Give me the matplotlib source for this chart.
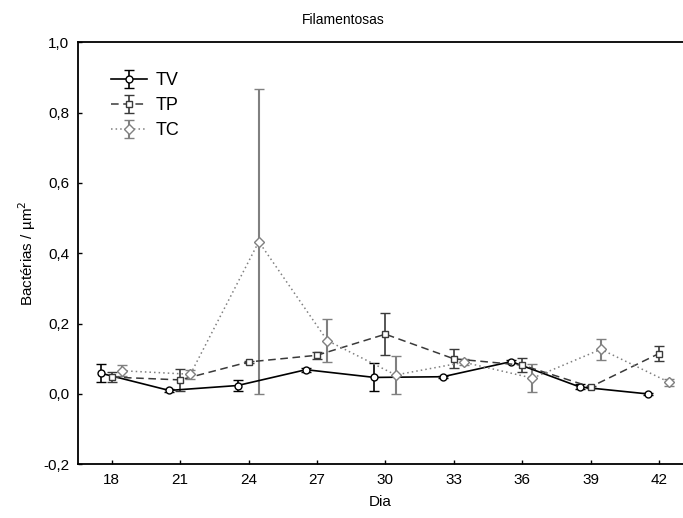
import matplotlib
matplotlib.use("Agg")
import matplotlib.pyplot as plt
import numpy as np

days = [18, 21, 24, 27, 30, 33, 36, 39, 42]
x_ticks = [18, 21, 24, 27, 30, 33, 36, 39, 42]
y_ticks = [-0.2, 0.0, 0.2, 0.4, 0.6, 0.8, 1.0]
y_tick_labels = ["-0,2", "0,0", "0,2", "0,4", "0,6", "0,8", "1,0"]

tv_mean = [0.059, 0.010, 0.024, 0.069, 0.047, 0.049, 0.092, 0.020, 0.000]
tv_err = [0.026, 0.004, 0.016, 0.006, 0.040, 0.003, 0.005, 0.007, 0.002]
tp_mean = [0.048, 0.040, 0.091, 0.110, 0.170, 0.100, 0.082, 0.020, 0.115]
tp_err = [0.015, 0.031, 0.004, 0.010, 0.060, 0.027, 0.020, 0.004, 0.022]
tc_mean = [0.066, 0.056, 0.433, 0.152, 0.054, 0.090, 0.045, 0.127, 0.033]
tc_err = [0.016, 0.013, 0.433, 0.060, 0.054, 0.008, 0.039, 0.030, 0.010]

plt.rcParams['font.family'] = ['Liberation Sans Narrow', 'Liberation Sans', 'DejaVu Sans']

fig = plt.figure(figsize=(6.83, 5.18), dpi=100)
ax = fig.add_axes([0.1138, 0.1037, 0.8862, 0.8146])

d = np.array(days, dtype=float)
ax.errorbar(d - 0.48, tv_mean, yerr=tv_err, color='black', ls='-', lw=1.2,
            marker='o', ms=5, mfc='white', mec='black', mew=1.0,
            ecolor='black', elinewidth=1.2, capsize=3.5, capthick=1.2, label='TV', zorder=3)
ax.errorbar(d, tp_mean, yerr=tp_err, color='#3a3a3a', ls=(0, (5, 3)), lw=1.1,
            marker='s', ms=5, mfc='white', mec='#3a3a3a', mew=1.0,
            ecolor='#3a3a3a', elinewidth=1.2, capsize=3.5, capthick=1.2, label='TP', zorder=3)
ax.errorbar(d + 0.45, tc_mean, yerr=tc_err, color='#808080', ls=(0, (1, 2)), lw=1.1,
            marker='D', ms=5, mfc='white', mec='#808080', mew=1.0,
            ecolor='#808080', elinewidth=1.5, capsize=3.5, capthick=1.2, label='TC', zorder=3)

ax.set_xlim(16.51, 43.05)
ax.set_ylim(-0.2, 1.0)
ax.set_xticks(x_ticks)
ax.set_xticklabels([str(v) for v in x_ticks])
ax.set_yticks(y_ticks)
ax.set_yticklabels(y_tick_labels)
ax.tick_params(direction='in', length=3, width=1, labelsize=11, pad=6)
ax.spines['right'].set_visible(False)
for s in ['left', 'bottom', 'top']:
    ax.spines[s].set_linewidth(1.3)

ax.set_xlabel('Dia', fontsize=11, labelpad=6)
ax.set_ylabel('Bactérias / µm$^2$', fontsize=11, labelpad=4)
fig.text(0.503, 0.962, 'Filamentosas', ha='center', va='center', fontsize=10)

leg = ax.legend(loc='upper left', bbox_to_anchor=(0.028, 0.968), frameon=False,
                fontsize=13, handlelength=2.0, handletextpad=0.5, labelspacing=0.45)

fig.savefig('out.png', dpi=100)
